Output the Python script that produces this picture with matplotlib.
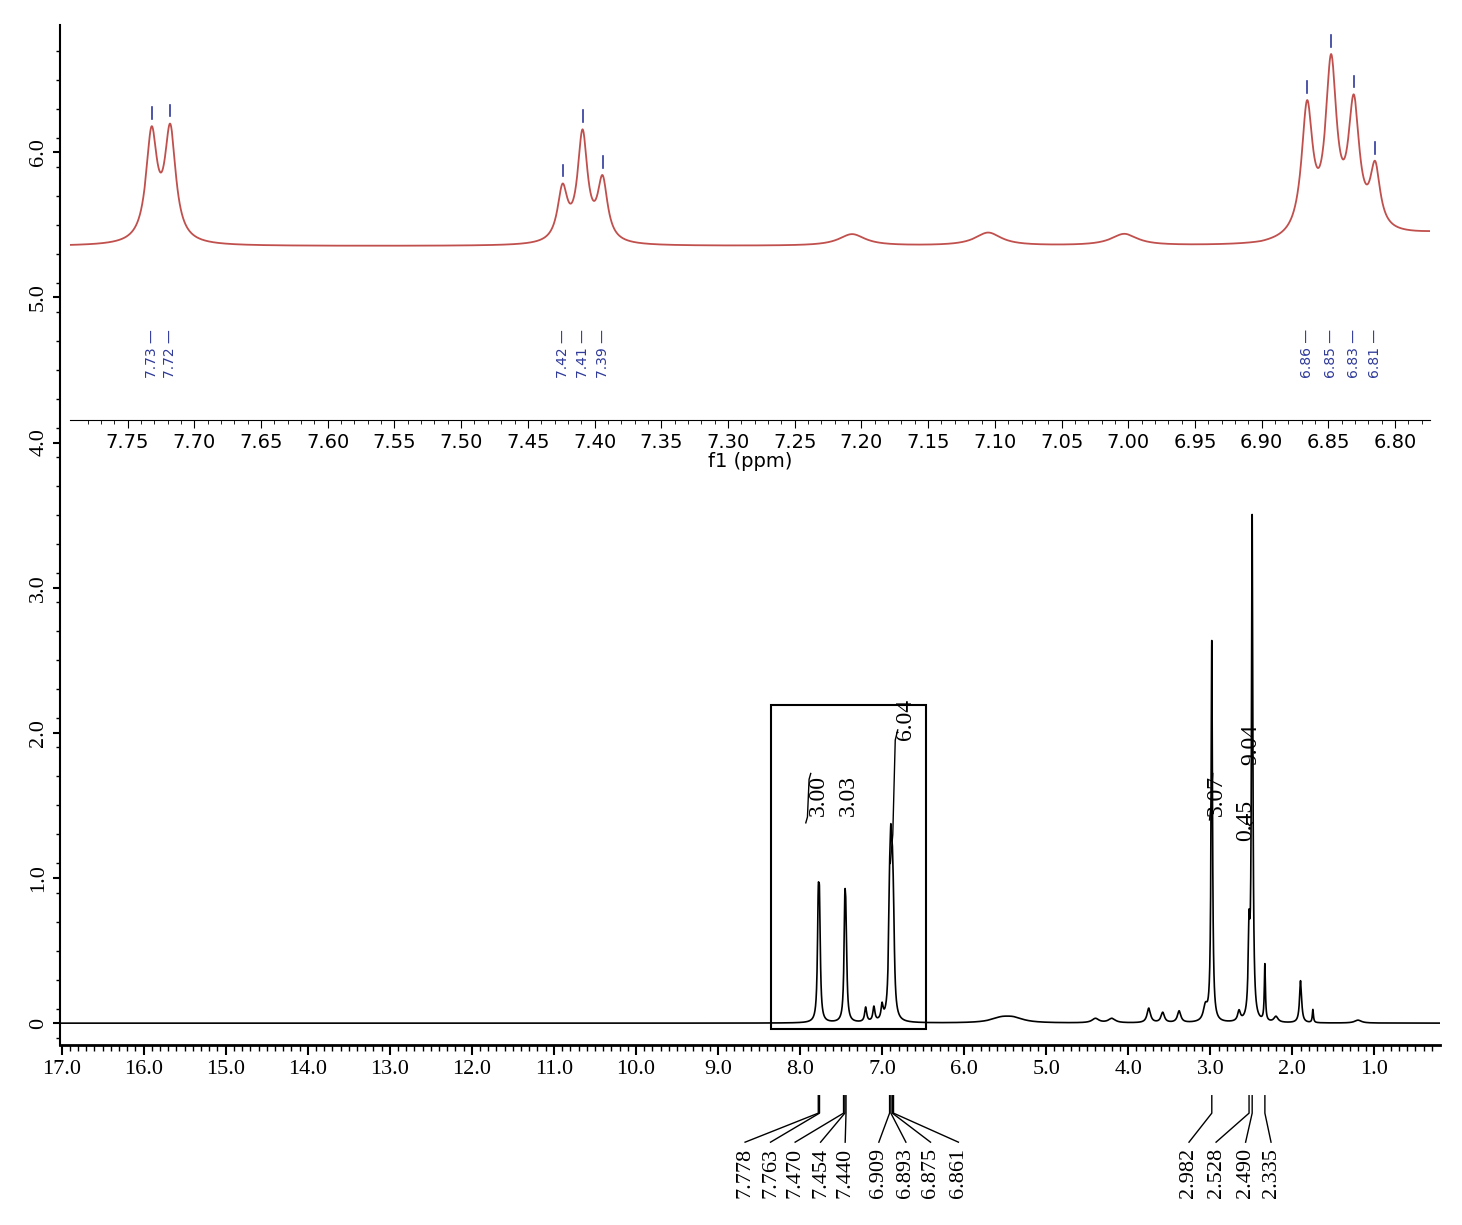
import numpy as np
import matplotlib
matplotlib.use("Agg")
import matplotlib.pyplot as plt
from matplotlib.patches import Rectangle

# ---- data ----
main_pos = [7.778, 7.763, 7.454, 7.440, 7.20, 7.10, 7.00, 6.909, 6.893, 6.875, 6.861,
            5.55, 5.40, 4.4, 4.2, 3.75, 3.58, 3.38, 3.06, 2.982, 2.65, 2.528, 2.490, 2.335, 2.2, 1.90, 1.75, 1.2]
main_h = [0.68, 0.66, 0.68, 0.52, 0.10, 0.10, 0.10, 0.62, 0.80, 0.62, 0.42,
          0.03, 0.03, 0.03, 0.03, 0.10, 0.07, 0.08, 0.10, 2.62, 0.07, 0.55, 3.45, 0.39, 0.04, 0.29, 0.09, 0.02]
main_w = [0.012, 0.012, 0.012, 0.012, 0.015, 0.015, 0.015, 0.014, 0.014, 0.014, 0.014,
          0.15, 0.15, 0.05, 0.05, 0.025, 0.025, 0.025, 0.03, 0.010, 0.02, 0.012, 0.010, 0.008, 0.03, 0.015, 0.008, 0.05]
main_labels = ["7.778", "7.763", "7.470", "7.454", "7.440", "6.909", "6.893", "6.875", "6.861",
               "2.982", "2.528", "2.490", "2.335"]
main_label_x = [7.778, 7.763, 7.470, 7.454, 7.440, 6.909, 6.893, 6.875, 6.861, 2.982, 2.528, 2.490, 2.335]
x_ticks = [17.0, 16.0, 15.0, 14.0, 13.0, 12.0, 11.0, 10.0, 9.0, 8.0, 7.0, 6.0, 5.0, 4.0, 3.0, 2.0, 1.0]
y_ticks = [0, 1.0, 2.0, 3.0, 4.0, 5.0, 6.0]

ins_pos = [7.732, 7.718, 7.424, 7.409, 7.394, 7.207, 7.105, 7.003, 6.866, 6.848, 6.831, 6.815]
ins_h = [0.74, 0.76, 0.36, 0.74, 0.42, 0.08, 0.09, 0.08, 0.88, 1.15, 0.86, 0.42]
ins_w = [0.005, 0.005, 0.0045, 0.0045, 0.0045, 0.012, 0.012, 0.012, 0.005, 0.005, 0.005, 0.0045]
ins_labels = ["7.73", "7.72", "7.42", "7.41", "7.39", "6.86", "6.85", "6.83", "6.81"]
ins_label_x = [7.732, 7.718, 7.424, 7.409, 7.394, 6.866, 6.848, 6.831, 6.815]
ins_ticks = [7.75, 7.70, 7.65, 7.60, 7.55, 7.50, 7.45, 7.40, 7.35, 7.30, 7.25, 7.20, 7.15, 7.10,
             7.05, 7.00, 6.95, 6.90, 6.85, 6.80]
ins_base = 5.36

# label text positions (ppm) under the axis
label_text_x = [8.67, 8.36, 8.06, 7.75, 7.45, 7.04, 6.71, 6.41, 6.07, 3.26, 2.93, 2.57, 2.26]

integrals = [("3.00", 7.78, 1.57), ("3.03", 7.41, 1.57), ("6.04", 6.72, 2.09),
             ("3.07", 2.93, 1.57), ("0.45", 2.57, 1.40), ("9.04", 2.51, 1.92)]

def lor(x, p, h, w):
    return h * w**2 / ((x - p)**2 + w**2)

fig = plt.figure(figsize=(14.62, 12.25), dpi=100)
serif = "Liberation Serif"

# ---- main spectrum ----
ax = fig.add_axes([0.041, 0.147, 0.944, 0.833])
x = np.linspace(0.0, 17.3, 60000)
y = np.zeros_like(x)
for p, h, w in zip(main_pos, main_h, main_w):
    y += lor(x, p, h, w)
ax.plot(x, y, color="black", lw=1.2)
ax.set_xlim(17.02, 0.2)
ax.set_ylim(-0.15, 6.88)
ax.set_xticks(x_ticks)
ax.set_xticklabels([f"{t:.1f}" for t in x_ticks], fontfamily=serif, fontsize=16)
ax.set_xticks(np.arange(0.3, 17.02, 0.1), minor=True)
ax.set_yticks(y_ticks)
ax.set_yticks(np.arange(-0.1, 6.88, 0.2), minor=True)
ax.set_yticklabels(["0"] + [f"{t:.1f}" for t in y_ticks[1:]], fontfamily=serif, fontsize=16,
                   rotation=90, va="center")
ax.tick_params(axis="x", which="major", length=7, width=1.5, direction="out")
ax.tick_params(axis="x", which="minor", length=4, width=1)
ax.tick_params(axis="y", which="major", length=5, width=1.5)
ax.tick_params(axis="y", which="minor", length=3, width=1)
for s in ["top", "right"]:
    ax.spines[s].set_visible(False)
ax.spines["left"].set_linewidth(1.5)
ax.spines["bottom"].set_linewidth(2)

ax.add_patch(Rectangle((8.36, -0.04), -1.89, 2.23, fill=False, lw=1.5, color="black"))

# peak label leaders
for xp, xl, lab in zip(main_label_x, label_text_x, main_labels):
    ax.plot([xp, xp, xl], [-0.50, -0.62, -0.82], color="black", lw=1, clip_on=False)
    ax.text(xl, -0.86, lab, rotation=90, ha="center", va="top", fontfamily=serif, fontsize=16)

# integrals
for lab, xi_, yi_ in integrals:
    ax.text(xi_, yi_, lab, rotation=90, ha="center", va="center", fontfamily=serif, fontsize=17)
ax.plot([7.93, 7.91, 7.89, 7.87], [1.38, 1.42, 1.68, 1.72], color="black", lw=1)
ax.plot([6.90, 6.87, 6.84, 6.81], [1.10, 1.30, 1.95, 2.02], color="black", lw=1)
ax.plot([3.01, 2.99, 2.97], [1.40, 1.50, 1.72], color="black", lw=1)
ax.plot([2.55, 2.52, 2.49], [1.38, 1.36, 1.38], color="black", lw=1)

# ---- inset ----
ai = fig.add_axes([0.048, 0.657, 0.930, 0.322])
ai.patch.set_alpha(0)
xi = np.linspace(6.77, 7.80, 20000)
yi = np.full_like(xi, ins_base)
yi[xi < 6.9] += 0.08 * (6.9 - xi[xi < 6.9]) / 0.12
for p, h, w in zip(ins_pos, ins_h, ins_w):
    yi += lor(xi, p, h, w)
ai.plot(xi, yi, color="#c0504d", lw=1.3)
ai.set_xlim(7.793, 6.774)
ai.set_ylim(4.16, 6.88)
ai.set_xticks(ins_ticks)
ai.set_xticklabels([f"{t:.2f}" for t in ins_ticks], fontsize=14)
ai.set_xticks(np.arange(6.78, 7.79, 0.01), minor=True)
ai.tick_params(axis="x", which="major", length=6)
ai.tick_params(axis="x", which="minor", length=3)
ai.set_yticks([])
for s in ["top", "right", "left"]:
    ai.spines[s].set_visible(False)
ai.set_xlabel("f1 (ppm)", fontsize=14, labelpad=0)
for xp, lab in zip(ins_label_x, ins_labels):
    ai.text(xp, 4.45, lab + " —", rotation=90, ha="center", va="bottom", fontsize=10, color="#2f3a9a")
    yp = np.interp(xp, xi, yi)
    ai.plot([xp, xp], [yp + 0.05, yp + 0.13], color="#2f3a9a", lw=1.2)

fig.savefig("out.png", dpi=100)
